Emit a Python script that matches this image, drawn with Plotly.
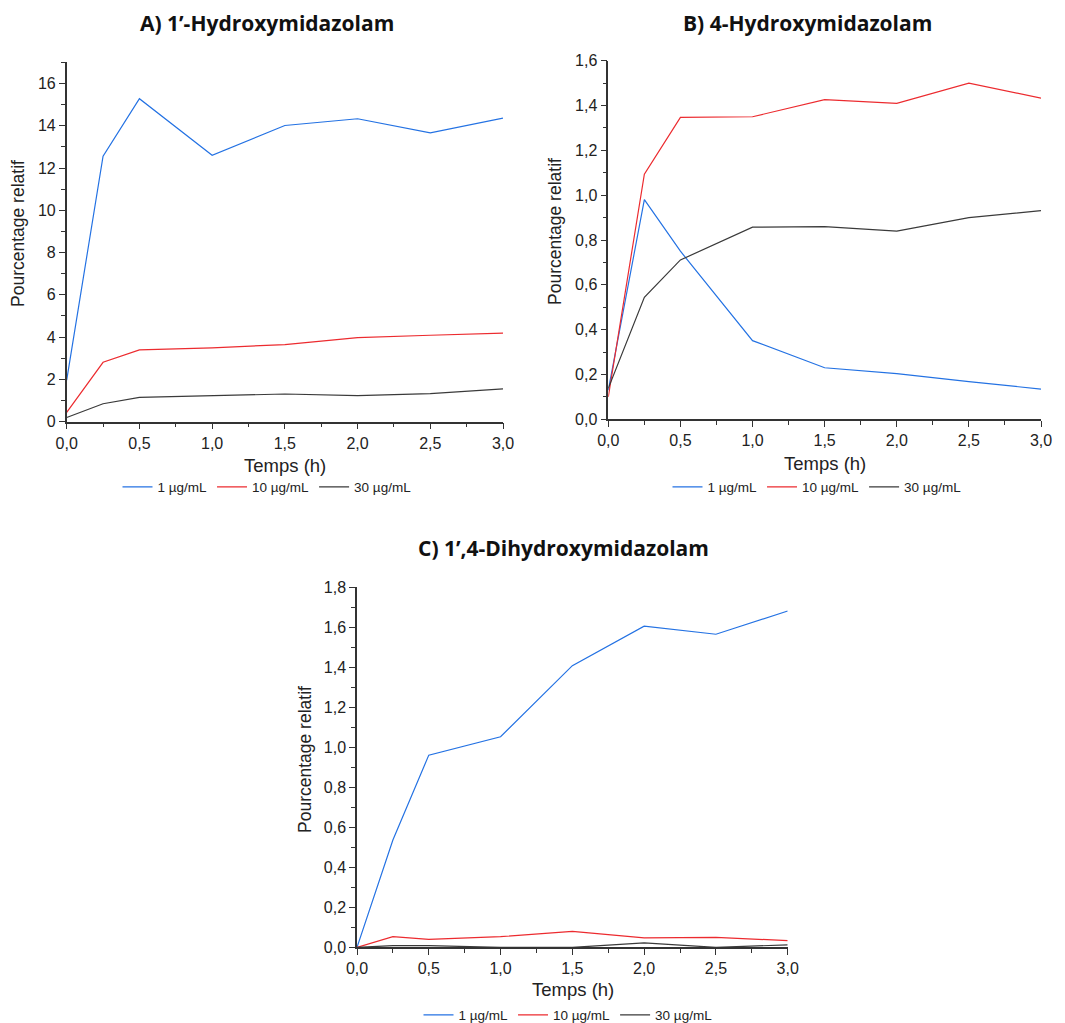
import plotly.graph_objects as go

W, H = 1065, 1023

times = [0, 0.25, 0.5, 1.0, 1.5, 2.0, 2.5, 3.0]
series_names = ["1 µg/mL", "10 µg/mL", "30 µg/mL"]
colors = ["#2472e3", "#ec2b2f", "#3a3a3a"]

# A) 1'-Hydroxymidazolam
a_1 = [1.97, 12.56, 15.28, 12.60, 14.01, 14.33, 13.66, 14.36]
a_10 = [0.44, 2.81, 3.40, 3.49, 3.65, 3.98, 4.09, 4.19]
a_30 = [0.20, 0.85, 1.15, 1.22, 1.31, 1.23, 1.33, 1.55]

# B) 4-Hydroxymidazolam
b_1 = [0.13, 0.98, 0.75, 0.351, 0.23, 0.204, 0.168, 0.135]
b_10 = [0.10, 1.094, 1.347, 1.35, 1.426, 1.41, 1.50, 1.433]
b_30 = [0.138, 0.544, 0.711, 0.857, 0.86, 0.84, 0.90, 0.931]

# C) 1',4-Dihydroxymidazolam
c_1 = [0.0, 0.536, 0.96, 1.052, 1.407, 1.604, 1.564, 1.68]
c_10 = [0.0, 0.053, 0.040, 0.053, 0.080, 0.047, 0.050, 0.033]
c_30 = [0.0, 0.008, 0.008, 0.0, 0.0, 0.022, 0.0, 0.012]

titles = ["<b>A) 1’-Hydroxymidazolam</b>", "<b>B) 4-Hydroxymidazolam</b>",
          "<b>C) 1’,4-Dihydroxymidazolam</b>"]


def px_x(p):
    return p / W


def px_y(p):
    return 1 - p / H


panels = [
    dict(data=[a_1, a_10, a_30], xd=(66.7, 503), yd=(62.3, 421.7), yr=[0, 17], dt=2, mdt=1, fmt="d",
         title=(267, 23), xt=(285, 465), yt=(18, 234), leg=(267, 487)),
    dict(data=[b_1, b_10, b_30], xd=(608.3, 1041), yd=(60.7, 419.3), yr=[0, 1.6], dt=0.2, mdt=0.1, fmt=".1f",
         title=(807, 23), xt=(825, 463), yt=(555, 232), leg=(817, 487)),
    dict(data=[c_1, c_10, c_30], xd=(357, 787.7), yd=(587, 947.3), yr=[0, 1.8], dt=0.2, mdt=0.1, fmt=".1f",
         title=(563, 548), xt=(573, 989), yt=(305, 760), leg=(568, 1015)),
]

fig = go.Figure()
annotations = []
layout = dict(
    width=W, height=H, margin=dict(l=0, r=0, t=0, b=0, autoexpand=False),
    paper_bgcolor="white", plot_bgcolor="white",
    separators=",.",
    font=dict(family="Liberation Sans, Arial", color="#222222"),
)

tick_font = dict(family="Liberation Sans, Arial", size=16, color="#222222")

for i, p in enumerate(panels):
    n = "" if i == 0 else str(i + 1)
    xa = "x" + n
    ya = "y" + n
    leg = "legend" + n
    for s, (vals, name, col) in enumerate(zip(p["data"], series_names, colors)):
        fig.add_trace(go.Scatter(
            x=times, y=vals, mode="lines", name=name,
            line=dict(color=col, width=1.2),
            xaxis=xa, yaxis=ya, legend=leg, showlegend=True,
        ))
    layout["xaxis" + n] = dict(
        domain=[px_x(p["xd"][0]), px_x(p["xd"][1])], anchor=ya, range=[0, 3], automargin=False,
        dtick=0.5, tick0=0, tickformat=".1f", ticks="outside", ticklen=6, tickwidth=1.2,
        tickcolor="#333333", showline=True, linecolor="#333333", linewidth=1.5,
        showgrid=False, zeroline=False, tickfont=tick_font,
        minor=dict(ticks="outside", dtick=0.25, tick0=0, ticklen=4, tickwidth=1.2, tickcolor="#333333", showgrid=False),
    )
    layout["yaxis" + n] = dict(
        domain=[px_y(p["yd"][1]), px_y(p["yd"][0])], anchor=xa, range=p["yr"], automargin=False,
        dtick=p["dt"], tick0=0, tickformat=p["fmt"], ticks="outside", ticklen=6, tickwidth=1.2,
        tickcolor="#333333", showline=True, linecolor="#333333", linewidth=1.5,
        showgrid=False, zeroline=False, tickfont=tick_font,
        minor=dict(ticks="outside", dtick=p["mdt"], tick0=0, ticklen=4, tickwidth=1.2, tickcolor="#333333", showgrid=False),
    )
    layout[leg] = dict(
        orientation="h", x=px_x(p["leg"][0]), y=px_y(p["leg"][1]), xanchor="center", yanchor="middle",
        xref="paper", yref="paper", bgcolor="rgba(0,0,0,0)",
        font=dict(family="Liberation Sans, Arial", size=13.5, color="#222222"),
        itemwidth=30, tracegroupgap=0,
    )
    annotations.append(dict(
        text=titles[i], x=px_x(p["title"][0]), y=px_y(p["title"][1]), xref="paper", yref="paper",
        xanchor="center", yanchor="middle", showarrow=False,
        font=dict(family="Open Sans, Noto Sans", size=21, color="#111111"),
    ))
    annotations.append(dict(
        text="Temps (h)", x=px_x(p["xt"][0]), y=px_y(p["xt"][1]), xref="paper", yref="paper",
        xanchor="center", yanchor="middle", showarrow=False,
        font=dict(family="Liberation Sans, Arial", size=18.5, color="#222222"),
    ))
    annotations.append(dict(
        text="Pourcentage relatif", x=px_x(p["yt"][0]), y=px_y(p["yt"][1]), xref="paper", yref="paper",
        xanchor="center", yanchor="middle", showarrow=False, textangle=-90,
        font=dict(family="Liberation Sans, Arial", size=17.5, color="#222222"),
    ))

layout["annotations"] = annotations
fig.update_layout(**layout)
fig.write_html("out.html")
